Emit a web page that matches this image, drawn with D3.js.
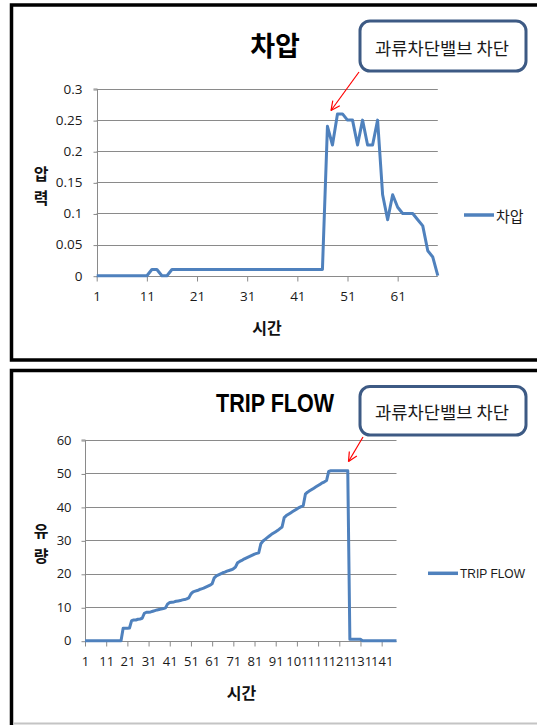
<!DOCTYPE html>
<html><head><meta charset="utf-8">
<script src="https://cdn.jsdelivr.net/npm/d3@7"></script>
<style>body{margin:0;background:#fff;} svg{display:block;}</style>
</head><body><svg id="c" width="537" height="725"></svg>
<script>
// ---------- DATA ----------
const pressureName = "차압";
const pressureValues = [
  0,0,0,0,0,0,0,0,0,0,0,
  0.01,0.01,0,0,
  0.01,0.01,0.01,0.01,0.01,0.01,0.01,0.01,0.01,0.01,0.01,0.01,0.01,0.01,0.01,0.01,
  0.01,0.01,0.01,0.01,0.01,0.01,0.01,0.01,0.01,0.01,0.01,0.01,0.01,0.01,0.01,
  0.24,0.21,0.26,0.26,0.25,0.25,0.21,0.25,0.21,0.21,0.25,
  0.13,0.09,0.13,0.11,0.10,0.10,0.10,0.09,0.08,0.04,0.03,0
];
const pressureYTicks = [0,0.05,0.1,0.15,0.2,0.25,0.3];
const pressureYLabels = ["0","0.05","0.1","0.15","0.2","0.25","0.3"];
const pressureXTicks = [1,11,21,31,41,51,61];

const flowName = "TRIP FLOW";
const flowValues = [
  0,0,0,0,0,0,0,0,0,0,0,0,0,0,0,0,0,0,
  3.7,3.7,3.7,3.8,
  6.0,6.2,6.2,6.4,6.5,6.7,
  8.2,8.5,8.5,8.6,8.8,9.0,9.2,9.3,9.5,9.6,9.8,
  11.0,11.4,11.5,11.6,11.8,11.9,12.0,12.2,12.3,12.5,12.8,
  14.0,14.6,14.8,15.0,15.3,15.5,15.7,16.0,16.3,16.6,17.0,
  18.8,19.4,19.7,20.0,20.3,20.5,20.8,21.0,21.2,21.5,22.0,
  23.3,23.7,24.0,24.4,24.7,25.0,25.3,25.6,25.9,26.1,26.3,
  29.0,29.8,30.3,30.8,31.3,31.8,32.2,32.6,33.0,33.5,34.0,
  36.8,37.4,37.8,38.2,38.6,39.0,39.4,39.8,40.1,40.4,
  43.8,44.4,44.8,45.2,45.6,46.0,46.4,46.8,47.2,47.5,47.9,
  50.6,50.8,50.8,50.8,50.8,50.8,50.8,50.8,50.8,50.8,
  0.4,0.4,0.4,0.4,0.4,0.4,
  0,0,0,0,0,0,0,0,0,0,0,0,0,0,0,0,0
];
const flowYTicks = [0,10,20,30,40,50,60];
const flowYLabels = ["0","10","20","30","40","50","60"];
const flowXTicks = [1,11,21,31,41,51,61,71,81,91,101,111,121,131,141];

const axisTitleX = "시간";
const pressureAxisTitleY = ["압","력"];
const flowAxisTitleY = ["유","량"];
const calloutText = "과류차단밸브 차단";

// ---------- DRAW ----------
const svg = d3.select("#c");
const KR = "'Noto Sans CJK KR','Noto Sans',sans-serif";
const NUM = "'Open Sans','Noto Sans',sans-serif";
const GRID = "#8a8a8a";
const LINE = "#4F81BD";

// frames
svg.append("rect").attr("x",11.5).attr("y",5).attr("width",560).attr("height",355)
  .attr("fill","none").attr("stroke","#000").attr("stroke-width",3.5);
svg.append("rect").attr("x",11.5).attr("y",370.5).attr("width",560).attr("height",400)
  .attr("fill","none").attr("stroke","#000").attr("stroke-width",3.5);
svg.append("line").attr("x1",13).attr("x2",537).attr("y1",723.5).attr("y2",723.5)
  .attr("stroke","#c4c4c4").attr("stroke-width",2);

function drawChart(c) {
  const g = svg.append("g");
  const n = c.values.length;
  const x = d3.scaleLinear().domain([1, n]).range([c.left, c.right]);
  const y = d3.scaleLinear().domain([0, c.yMax]).range([c.bottom, c.top]);

  // gridlines
  g.append("g").selectAll("line").data(c.yTicks.filter(v => v > 0)).join("line")
    .attr("x1", c.left).attr("x2", c.right)
    .attr("y1", d => Math.round(y(d)) + 0.5).attr("y2", d => Math.round(y(d)) + 0.5)
    .attr("stroke", GRID).attr("stroke-width", 1);

  // y axis
  const ya = g.append("g").attr("transform", `translate(${Math.round(c.left)+0.5},0)`)
    .call(d3.axisLeft(y).tickValues(c.yTicks).tickSize(4).tickPadding(c.yPad)
      .tickFormat((d,i) => c.yLabels[i]));
  ya.select(".domain").attr("stroke", GRID).attr("d", `M-4,${c.top}H0V${c.bottom}`);
  ya.selectAll(".tick line").attr("stroke", GRID).attr("transform", "translate(0,0.5)");
  ya.selectAll(".tick text").attr("font-family", NUM).attr("font-size", c.tickSize)
    .attr("fill", "#1a1a1a");

  // x axis
  const xa = g.append("g").attr("transform", `translate(0,${Math.round(c.bottom)+0.5})`)
    .call(d3.axisBottom(x).tickValues(c.xTicks).tickSize(5).tickPadding(c.xPad)
      .tickFormat(d3.format("d")));
  xa.select(".domain").attr("stroke", GRID).attr("d", `M${c.left},0H${c.right}`);
  xa.selectAll(".tick line").attr("stroke", GRID);
  xa.selectAll(".tick text").attr("font-family", NUM).attr("font-size", c.tickSize)
    .attr("fill", "#1a1a1a");

  // series line
  g.append("path").datum(c.values)
    .attr("d", d3.line().x((d, i) => x(i + 1)).y(d => y(d)))
    .attr("fill", "none").attr("stroke", LINE).attr("stroke-width", 3)
    .attr("stroke-linejoin", "round").attr("stroke-linecap", "butt");

  // title
  const t = g.append("text").attr("x", c.titleX).attr("y", c.titleY)
    .attr("text-anchor", "middle").attr("font-family", c.titleFont)
    .attr("font-weight", "bold").attr("font-size", c.titleSize).attr("fill", "#000")
    .text(c.title);
  if (c.titleLen) t.attr("textLength", c.titleLen).attr("lengthAdjust", "spacingAndGlyphs");

  // axis titles
  c.yTitle.forEach((ch, i) => {
    g.append("text").attr("x", c.yTitleX).attr("y", c.yTitleYs[i])
      .attr("text-anchor", "middle").attr("dominant-baseline", "central")
      .attr("font-family", KR).attr("font-weight", "bold").attr("font-size", 16)
      .attr("fill", "#111").text(ch);
  });
  g.append("text").attr("x", c.xTitleX).attr("y", c.xTitleY)
    .attr("text-anchor", "middle").attr("dominant-baseline", "central")
    .attr("font-family", KR).attr("font-weight", "bold").attr("font-size", 16)
    .attr("fill", "#111").text(axisTitleX);

  // legend
  g.append("line").attr("x1", c.legX).attr("x2", c.legX + 30)
    .attr("y1", c.legY).attr("y2", c.legY)
    .attr("stroke", LINE).attr("stroke-width", 3.5);
  const lt = g.append("text").attr("x", c.legX + 32).attr("y", c.legY)
    .attr("dominant-baseline", "central").attr("font-family", c.legFont)
    .attr("font-size", c.legSize).attr("fill", "#1a1a1a").text(c.name);
  if (c.legLen) lt.attr("textLength", c.legLen).attr("lengthAdjust", "spacingAndGlyphs");

  // callout
  const b = c.box;
  g.append("rect").attr("x", b.x).attr("y", b.y).attr("width", b.w).attr("height", b.h)
    .attr("rx", 10).attr("ry", 10).attr("fill", "#fff")
    .attr("stroke", "#3D5A84").attr("stroke-width", 3);
  g.append("text").attr("x", b.x + b.w / 2 - 1).attr("y", b.y + b.h / 2 + 1)
    .attr("text-anchor", "middle").attr("dominant-baseline", "central")
    .attr("font-family", KR).attr("font-size", 17).attr("fill", "#1a1a1a")
    .attr("textLength", 134).attr("lengthAdjust", "spacingAndGlyphs")
    .text(calloutText);

  // arrow
  const a = c.arrow;
  g.append("line").attr("x1", a.x1).attr("y1", a.y1).attr("x2", a.x2).attr("y2", a.y2)
    .attr("stroke", "#ff0000").attr("stroke-width", 1.2);
  const ang = Math.atan2(a.y2 - a.y1, a.x2 - a.x1);
  [-0.45, 0.45].forEach(da => {
    const aa = ang + Math.PI + da;
    g.append("line").attr("x1", a.x2).attr("y1", a.y2)
      .attr("x2", a.x2 + 10 * Math.cos(aa)).attr("y2", a.y2 + 10 * Math.sin(aa))
      .attr("stroke", "#ff0000").attr("stroke-width", 1.2);
  });
}

drawChart({
  values: pressureValues, name: pressureName, yMax: 0.3,
  yTicks: pressureYTicks, yLabels: pressureYLabels, xTicks: pressureXTicks,
  left: 96.7, right: 437.8, top: 89, bottom: 275.7, yPad: 11, xPad: 10, tickSize: 13.5,
  title: pressureName, titleX: 275, titleY: 56, titleSize: 27, titleFont: KR,
  yTitle: pressureAxisTitleY, yTitleX: 41, yTitleYs: [173, 197],
  xTitleX: 267, xTitleY: 327,
  legX: 464, legY: 215, legFont: KR, legSize: 15,
  box: {x: 360, y: 21, w: 166, h: 50},
  arrow: {x1: 359, y1: 72, x2: 331, y2: 110.5}
});

drawChart({
  values: flowValues, name: flowName, yMax: 60,
  yTicks: flowYTicks, yLabels: flowYLabels, xTicks: flowXTicks,
  left: 85, right: 396.5, top: 440, bottom: 640.7, yPad: 10, xPad: 10, tickSize: 13,
  title: flowName, titleX: 275, titleY: 412, titleSize: 25, titleFont: "'Liberation Sans',Arial,sans-serif", titleLen: 118,
  yTitle: flowAxisTitleY, yTitleX: 41, yTitleYs: [530, 555],
  xTitleX: 241.5, xTitleY: 691.5,
  legX: 428, legY: 573.3, legFont: "'Liberation Sans',Arial,sans-serif", legSize: 13, legLen: 65,
  box: {x: 360, y: 386.5, w: 166, h: 48.5},
  arrow: {x1: 363, y1: 437, x2: 348.5, y2: 461.5}
});
</script></body></html>
